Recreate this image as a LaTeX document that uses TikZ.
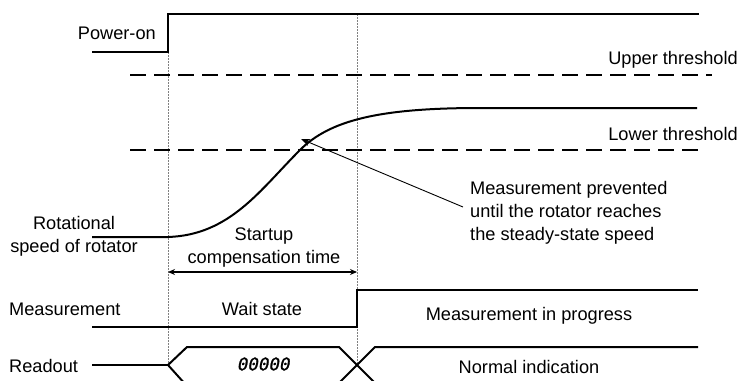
\documentclass[tikz,border=0pt]{standalone}
\usepackage{fontspec}
\setmainfont{Liberation Sans}
\newfontfamily\segfont{DejaVu Sans Mono}[FakeSlant=0.2,FakeBold=1.2]
\usetikzlibrary{arrows.meta}
\begin{document}
\begin{tikzpicture}[x=1pt,y=-1pt,
  lbl/.style={inner sep=0pt,font=\fontsize{18.2pt}{23pt}\selectfont},
  sig/.style={line width=2pt},
  thr/.style={line width=2pt,dash pattern=on 16pt off 8pt},
  guide/.style={line width=1pt,gray,dash pattern=on 1.5pt off 1.5pt},
  callout/.style={line width=0.9pt,-{Stealth[length=9pt,width=7pt]}},
  span/.style={line width=1.2pt,{Stealth[length=7pt,width=6pt]}-{Stealth[length=7pt,width=6pt]}}]
\useasboundingbox (0,0) rectangle (741,380);
\clip (0,0) rectangle (741,380);

% guides
\coordinate (g1t) at (168,52);
\coordinate (g1b) at (168,365);
\coordinate (g2t) at (357,14);
\coordinate (g2b) at (357,365);
\draw[guide] (g1t) -- (g1b);
\draw[guide] (g2t) -- (g2b);

% power-on
\node[lbl,anchor=east] (pwr) at (156,33) {Power-on};
\draw[sig] (92,52) -- (168,52) -- (168,14) -- (699,14);

% thresholds
\node[lbl,anchor=east] (up) at (738,60) {Upper threshold};
\node[lbl,anchor=east] (lo) at (738,134) {Lower threshold};
\draw[thr] (130,75) -- (712,75);
\draw[thr] (130,150) -- (700,150);

% speed curve
\node[lbl,align=center] (rot) at (74,236) {Rotational\\speed of rotator};
\coordinate (hit) at (301,139);
\draw[sig] (92,237) -- (168,237) .. controls (230,235) and (260,190) .. (300,150)
  .. controls (330,120) and (380,108) .. (480,108) -- (697,108);

% annotation
\node[lbl,align=left,anchor=north west] (note) at (470,181)
  {Measurement prevented\\until the rotator reaches\\the steady-state speed};
\coordinate (nstart) at (463,207);
\draw[callout] (nstart) -- (hit);

% startup compensation time
\node[lbl,align=center] (sct) at (264,248) {Startup\\compensation time};
\coordinate (s1) at (168,272);
\coordinate (s2) at (357,272);
\draw[span] (s1) -- (s2);

% measurement
\node[lbl,anchor=west] (meas) at (9,309) {Measurement};
\node[lbl] (wait) at (262,309) {Wait state};
\node[lbl] (prog) at (529,316) {Measurement in progress};
\draw[sig] (92,327) -- (357,327) -- (357,290) -- (698,290);

% readout
\node[lbl,anchor=west] (rd) at (9,366) {Readout};
\node[inner sep=0pt,font=\segfont\fontsize{17.5pt}{17.5pt}\selectfont] (zeros) at (263,364) {00000};
\node[lbl] (norm) at (529,367) {Normal indication};
\draw[sig] (92,365) -- (168,365);
\draw[sig] (186,385) -- (168,365) -- (187,347) -- (339,347) -- (375,383);
\draw[sig] (187,383) -- (339,383) -- (375,347) -- (698,347);
\end{tikzpicture}
\end{document}
